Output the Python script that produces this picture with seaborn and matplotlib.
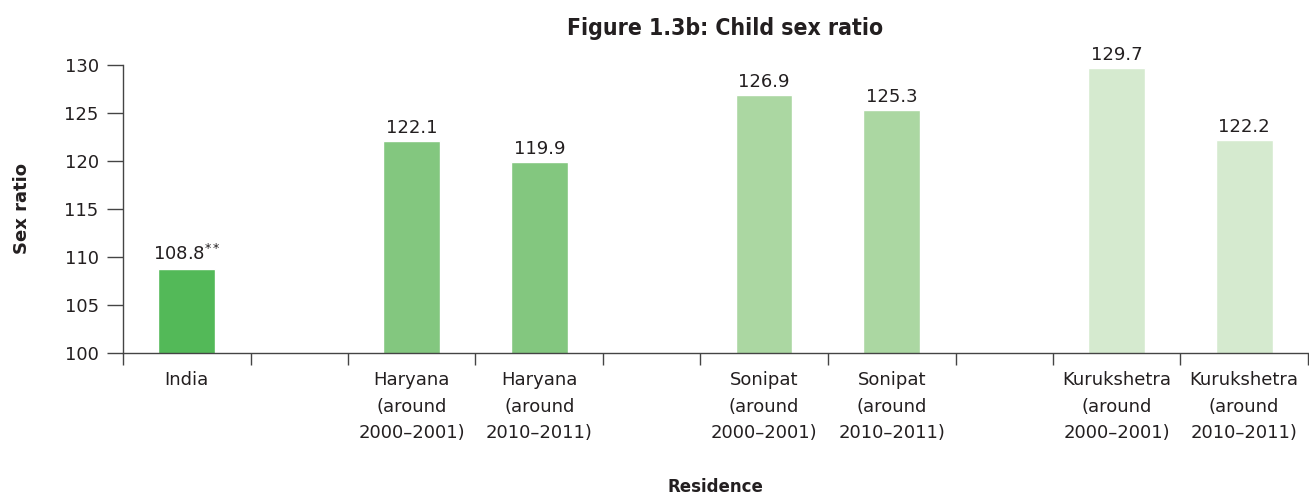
import matplotlib
matplotlib.use("Agg")
import matplotlib.pyplot as plt
import seaborn as sns
import pandas as pd
import numpy as np
from matplotlib.ticker import FixedLocator, NullFormatter

# ---- data ----
labels = ["India",
          "Haryana\n(around\n2000–2001)", "Haryana\n(around\n2010–2011)",
          "Sonipat\n(around\n2000–2001)", "Sonipat\n(around\n2010–2011)",
          "Kurukshetra\n(around\n2000–2001)", "Kurukshetra\n(around\n2010–2011)"]
regions = ["India", "Haryana", "Haryana", "Sonipat", "Sonipat", "Kurukshetra", "Kurukshetra"]
values = [108.8, 122.1, 119.9, 126.9, 125.3, 129.7, 122.2]
notes = ["**", "", "", "", "", "", ""]
yticks = [100, 105, 110, 115, 120, 125, 130]

# ---- style / layout ----
palette = {"India": "#53B958", "Haryana": "#83C77F",
           "Sonipat": "#ABD7A2", "Kurukshetra": "#D5EACF"}
GAP = 0.76          # width of empty slot between regions (relative to a bar slot)
BAR_W = 0.445
TXT = "#231F20"
SPINE = "#444444"

# compute slot positions: one empty slot before each new region (except first)
centers, edges = [], [0.0]
cur = 0.0
prev = None
for r in regions:
    if prev is not None and r != prev:
        cur += GAP
        edges.append(cur)
    centers.append(cur + 0.5)
    cur += 1.0
    edges.append(cur)
    prev = r
xmax = cur

df = pd.DataFrame({"pos": centers, "value": values, "region": regions})

sns.set_style("white")
plt.rcParams["font.family"] = ["DejaVu Sans"]

fig = plt.figure(figsize=(13.09, 4.96), dpi=100)
ax = fig.add_axes([123 / 1309, 1 - 353 / 496, (1308 - 123) / 1309, (353 - 65) / 496])

sns.barplot(data=df, x="pos", y="value", hue="region", palette=palette,
            native_scale=True, dodge=False, width=BAR_W, legend=False,
            saturation=1, ax=ax, bottom=0)

ax.set_ylim(100, 130)
ax.set_xlim(0, xmax)

# value labels
for cont in ax.containers:
    labs = []
    for bar in cont:
        cx = bar.get_x() + bar.get_width() / 2
        i = int(np.argmin([abs(cx - c) for c in centers]))
        txt = f"{values[i]:.1f}"
        if notes[i]:
            txt += "$^{" + notes[i] + "}$"
        labs.append(txt)
    ax.bar_label(cont, labels=labs, padding=3, fontsize=13, color=TXT)

# x ticks: boundaries as major ticks, labels at centers (minor)
ax.xaxis.set_major_locator(FixedLocator(edges))
ax.xaxis.set_major_formatter(NullFormatter())
ax.xaxis.set_minor_locator(FixedLocator(centers))
ax.set_xticklabels(labels, minor=True, fontsize=13, color=TXT, linespacing=1.62)
ax.tick_params(axis="x", which="major", direction="out", length=8.6, width=1.0,
               color=SPINE, bottom=True)
ax.tick_params(axis="x", which="minor", length=0, pad=13, bottom=True)

ax.set_yticks(yticks)
ax.set_yticklabels([str(t) for t in yticks], fontsize=13, color=TXT)
ax.tick_params(axis="y", direction="out", length=11.5, width=1.0, color=SPINE,
               pad=6, left=True)

for s in ["top", "right"]:
    ax.spines[s].set_visible(False)
for s in ["left", "bottom"]:
    ax.spines[s].set_color(SPINE)
    ax.spines[s].set_linewidth(1.0)

ax.set_xlabel("")
ax.set_ylabel("Sex ratio", fontsize=13, fontweight="bold", color=TXT, labelpad=24)
fig.text(715 / 1309, 1 - 487 / 496, "Residence", ha="center", va="center",
         fontsize=12, fontweight="bold", color=TXT)
fig.text(725 / 1309, 1 - 28 / 496, "Figure 1.3b: Child sex ratio", ha="center",
         va="center", fontsize=16.5, fontweight="bold", color=TXT,
         fontstretch="condensed")

fig.savefig("out.png", dpi=100)
